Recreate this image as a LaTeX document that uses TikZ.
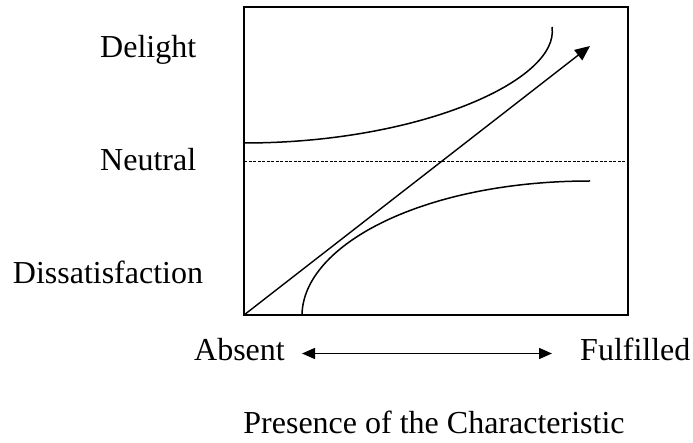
\documentclass[tikz,border=0pt]{standalone}
\usepackage{fontspec}
\setmainfont{Liberation Serif}
\usetikzlibrary{arrows.meta}
\begin{document}
\begin{tikzpicture}[x=1pt,y=-1pt,
  lbl/.style={inner sep=0pt,font=\fontsize{32}{38}\selectfont},
  frame/.style={line width=1.7pt},
  curve/.style={line width=1.5pt},
  arr/.style={line width=1.4pt,-{Triangle[length=15pt,width=13pt]}},
  darr/.style={line width=1.4pt,{Triangle[length=13pt,width=11pt]}-{Triangle[length=13pt,width=11pt]}},
  neutral/.style={line width=0.8pt,dash pattern=on 3pt off 1.5pt}]
\useasboundingbox (0,0) rectangle (693,443);
% frame
\coordinate (BL) at (244,315);
\coordinate (TR) at (628,7);
\draw[frame] (BL) rectangle (TR);
% neutral line
\coordinate (nl) at (244,161.7);
\coordinate (nr) at (628,161.7);
\draw[neutral] (nl) -- (nr);
% delight curve
\coordinate (d0) at (244,143);
\coordinate (d1) at (552,27);
\draw[curve] (d0) .. controls (420,143) and (560,80) .. (d1);
% basic curve
\coordinate (b0) at (302,315);
\coordinate (b1) at (590,181);
\draw[curve] (b0) .. controls (303,244) and (425,181) .. (b1);
% performance arrow
\coordinate (tip) at (590,46);
\draw[arr] (BL) -- (tip);
% labels
\node[lbl,anchor=base west] (delight) at (100,57.3) {Delight};
\node[lbl,anchor=base west] (neutr) at (100,170.7) {Neutral};
\node[lbl,anchor=base west] (dissat) at (12.7,284) {Dissatisfaction};
\node[lbl,anchor=base east] (absent) at (285,360) {Absent};
\node[lbl,anchor=base west] (fulfilled) at (580,360) {Fulfilled};
\node[lbl,anchor=base] (presence) at (434,433) {Presence of the Characteristic};
% double arrow
\coordinate (al) at (302,353.5);
\coordinate (ar) at (552,353.5);
\draw[darr] (al) -- (ar);
\end{tikzpicture}
\end{document}
